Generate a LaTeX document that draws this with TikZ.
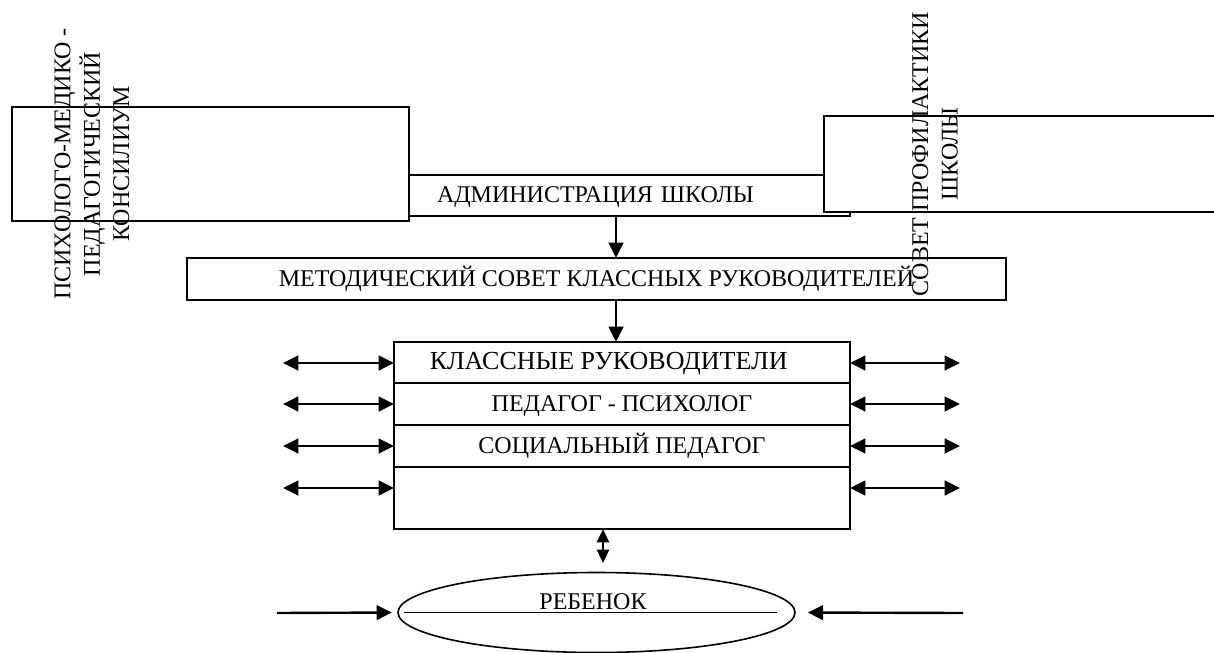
\documentclass[tikz,border=0pt]{standalone}
\usepackage{fontspec}
\setmainfont{Liberation Serif}
\usepackage{tikz}
\usetikzlibrary{positioning,calc,shapes.geometric,arrows.meta}
\def\RowWidth{342pt}
\tikzset{
	box/.style={draw,line width=1.1pt,fill=white,inner sep=0pt,outer sep=0pt,text height=11pt,text depth=0pt},
	rowbox/.style={box,minimum width=\RowWidth},
	arr/.style={-{Triangle[length=11.5pt,width=11pt]},line width=1.8pt},
	darr/.style={{Triangle[length=11.5pt,width=11pt]}-{Triangle[length=11.5pt,width=11pt]},line width=1.8pt},
	sarr/.style={{Triangle[length=10pt,width=9pt]}-{Triangle[length=10pt,width=9pt]},line width=1.6pt},
	sidetext/.style={rotate=90,align=center,font=\fontsize{18}{22}\selectfont}
}
\begin{document}
\begin{tikzpicture}[x=0.75pt,y=-0.75pt,font=\fontsize{18}{22}\selectfont]
	\useasboundingbox (0,0) rectangle (1214,653);
	\clip (0,0) rectangle (1214,653);
	% 
	\node[box,anchor=north west,minimum width=331.5pt,minimum height=30.75pt,
		text width=288pt,inner xsep=21.75pt,align=left] (admin) at (408,175) {АДМИНИСТРАЦИЯ ШКОЛЫ};
	\node[box,anchor=north west,minimum width=297.75pt,minimum height=85.5pt] (pmpk) at (12,107) {};
	\node[box,anchor=north west,minimum width=300.75pt,minimum height=72pt] (sovet) at (824,116) {};
	% 
	\node[box,anchor=north west,minimum width=614.25pt,minimum height=31.5pt] (metod) at (187,258) {МЕТОДИЧЕСКИЙ СОВЕТ КЛАССНЫХ РУКОВОДИТЕЛЕЙ};
	% 
	\node[rowbox,anchor=north west,minimum height=30.75pt] (klass) at (394,342) {\hspace*{-20pt}\fontsize{19.5}{22}\selectfont КЛАССНЫЕ РУКОВОДИТЕЛИ};
	\node[rowbox,below=0pt of klass,minimum height=31.5pt] (psych) {ПЕДАГОГ - ПСИХОЛОГ};
	\node[rowbox,below=0pt of psych,minimum height=31.5pt] (social) {СОЦИАЛЬНЫЙ ПЕДАГОГ};
	\node[rowbox,below=0pt of social,minimum height=46.5pt] (extra) {};
	% 
	\node[draw,ellipse,line width=1.2pt,minimum width=297.75pt,minimum height=60pt,inner sep=0pt] (child) at (596.5,612.5) {};
	\node (childtext) at ($(child.center)+(-3.5,-11)$) {РЕБЕНОК};
	\draw[line width=1pt] ($(child.west)+(7,0)$) -- ($(child.west)+(380,0)$);
	% 
	\node[sidetext] (pmpktext) at (92,164) {ПСИХОЛОГО-МЕДИКО -\\ПЕДАГОГИЧЕСКИЙ\\КОНСИЛИУМ};
	\node[sidetext] (sovettext) at (935,154) {СОВЕТ ПРОФИЛАКТИКИ\\ШКОЛЫ};
	% 
	\coordinate (down) at (616,0);
	\draw[arr] (down |- admin.south) -- (down |- metod.north);
	\draw[arr] (down |- metod.south) -- (down |- klass.north);
	% 
	\foreach \y [count=\i] in {363,404,446,488} {
		\coordinate (wl\i) at ($(283,\y)$);
		\coordinate (wr\i) at ($(960,\y)$);
		\draw[darr] (wl\i) -- (wl\i -| klass.west);
		\draw[darr] (wr\i -| klass.east) -- (wr\i);
	}
	% 
	\coordinate (up) at (603,563);
	\draw[sarr] (up |- extra.south) -- (up);
	\coordinate (inl) at (277,613);
	\coordinate (inr) at (963,613);
	\draw[arr,shorten >=4pt] (inl) -- (child.west);
	\draw[arr,shorten >=9pt] (inr) -- (child.east);
\end{tikzpicture}
\end{document}
